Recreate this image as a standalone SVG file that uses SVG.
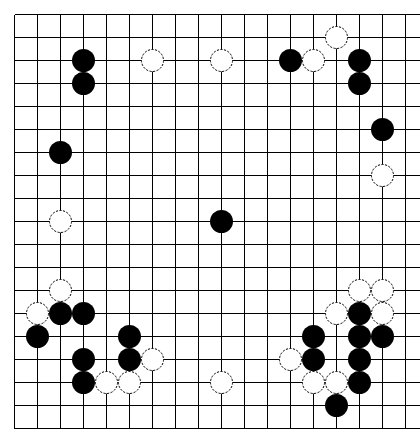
<svg xmlns="http://www.w3.org/2000/svg" width="420" height="443" viewBox="0 0 420 443">
<style>
.g line{stroke:#000;stroke-width:1;shape-rendering:crispEdges}
.b{fill:#000;stroke:none}
.w{fill:#fff;stroke:#000;stroke-width:1;stroke-dasharray:2.2 1.4}
</style>
<rect width="420" height="443" fill="#fff"/>
<g id="grid" class="g" transform="translate(0.5,0.5)">
<line x1="14" y1="14" x2="420" y2="14"/><line x1="14" y1="37" x2="420" y2="37"/><line x1="14" y1="60" x2="420" y2="60"/><line x1="14" y1="83" x2="420" y2="83"/><line x1="14" y1="106" x2="420" y2="106"/><line x1="14" y1="129" x2="420" y2="129"/><line x1="14" y1="152" x2="420" y2="152"/><line x1="14" y1="175" x2="420" y2="175"/><line x1="14" y1="198" x2="420" y2="198"/><line x1="14" y1="221" x2="420" y2="221"/><line x1="14" y1="244" x2="420" y2="244"/><line x1="14" y1="267" x2="420" y2="267"/><line x1="14" y1="290" x2="420" y2="290"/><line x1="14" y1="313" x2="420" y2="313"/><line x1="14" y1="336" x2="420" y2="336"/><line x1="14" y1="359" x2="420" y2="359"/><line x1="14" y1="382" x2="420" y2="382"/><line x1="14" y1="405" x2="420" y2="405"/><line x1="14" y1="428" x2="420" y2="428"/>
<line x1="14" y1="14" x2="14" y2="428"/><line x1="37" y1="14" x2="37" y2="428"/><line x1="60" y1="14" x2="60" y2="428"/><line x1="83" y1="14" x2="83" y2="428"/><line x1="106" y1="14" x2="106" y2="428"/><line x1="129" y1="14" x2="129" y2="428"/><line x1="152" y1="14" x2="152" y2="428"/><line x1="175" y1="14" x2="175" y2="428"/><line x1="198" y1="14" x2="198" y2="428"/><line x1="221" y1="14" x2="221" y2="428"/><line x1="244" y1="14" x2="244" y2="428"/><line x1="267" y1="14" x2="267" y2="428"/><line x1="290" y1="14" x2="290" y2="428"/><line x1="313" y1="14" x2="313" y2="428"/><line x1="336" y1="14" x2="336" y2="428"/><line x1="359" y1="14" x2="359" y2="428"/><line x1="382" y1="14" x2="382" y2="428"/><line x1="405" y1="14" x2="405" y2="428"/>
</g>
<g id="stones" transform="translate(0.5,0.5)">
<g id="white-stones">
<circle class="w" cx="336" cy="37" r="11"/>
<circle class="w" cx="152" cy="60" r="11"/>
<circle class="w" cx="221" cy="60" r="11"/>
<circle class="w" cx="313" cy="60" r="11"/>
<circle class="w" cx="382" cy="175" r="11"/>
<circle class="w" cx="60" cy="221" r="11"/>
<circle class="w" cx="60" cy="290" r="11"/>
<circle class="w" cx="359" cy="290" r="11"/>
<circle class="w" cx="382" cy="290" r="11"/>
<circle class="w" cx="37" cy="313" r="11"/>
<circle class="w" cx="336" cy="313" r="11"/>
<circle class="w" cx="382" cy="313" r="11"/>
<circle class="w" cx="152" cy="359" r="11"/>
<circle class="w" cx="290" cy="359" r="11"/>
<circle class="w" cx="106" cy="382" r="11"/>
<circle class="w" cx="129" cy="382" r="11"/>
<circle class="w" cx="221" cy="382" r="11"/>
<circle class="w" cx="313" cy="382" r="11"/>
<circle class="w" cx="336" cy="382" r="11"/>
</g>
<g id="black-stones">
<circle class="b" cx="83" cy="60" r="11.5"/>
<circle class="b" cx="290" cy="60" r="11.5"/>
<circle class="b" cx="359" cy="60" r="11.5"/>
<circle class="b" cx="83" cy="83" r="11.5"/>
<circle class="b" cx="359" cy="83" r="11.5"/>
<circle class="b" cx="382" cy="129" r="11.5"/>
<circle class="b" cx="60" cy="152" r="11.5"/>
<circle class="b" cx="221" cy="221" r="11.5"/>
<circle class="b" cx="60" cy="313" r="11.5"/>
<circle class="b" cx="83" cy="313" r="11.5"/>
<circle class="b" cx="359" cy="313" r="11.5"/>
<circle class="b" cx="37" cy="336" r="11.5"/>
<circle class="b" cx="129" cy="336" r="11.5"/>
<circle class="b" cx="313" cy="336" r="11.5"/>
<circle class="b" cx="359" cy="336" r="11.5"/>
<circle class="b" cx="382" cy="336" r="11.5"/>
<circle class="b" cx="83" cy="359" r="11.5"/>
<circle class="b" cx="129" cy="359" r="11.5"/>
<circle class="b" cx="313" cy="359" r="11.5"/>
<circle class="b" cx="359" cy="359" r="11.5"/>
<circle class="b" cx="83" cy="382" r="11.5"/>
<circle class="b" cx="359" cy="382" r="11.5"/>
<circle class="b" cx="336" cy="405" r="11.5"/>
</g>
</g>
</svg>
